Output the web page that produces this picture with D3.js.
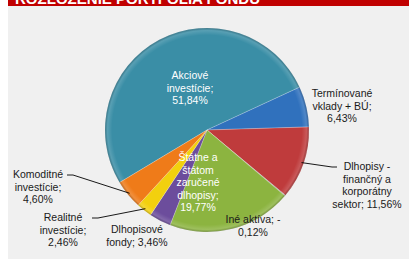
<!DOCTYPE html>
<html>
<head>
<meta charset="utf-8">
<style>
  body { margin: 0; background: #fff; }
  svg text { font-family: "Liberation Sans", Arial, sans-serif; }
</style>
</head>
<body>
<script src="https://cdn.jsdelivr.net/npm/d3@7"></script>
<script>
// data
var categories = ["Akciové investície", "Termínované vklady + BÚ", "Dlhopisy - finančný a korporátny sektor",
                  "Iné aktíva", "Štátne a štátom zaručené dlhopisy", "Dlhopisové fondy",
                  "Realitné investície", "Komoditné investície"];
var values = [51.84, 6.43, 11.56, -0.12, 19.77, 3.46, 2.46, 4.60];
var colors = ["#3a8ea6", "#3071bd", "#bf3b3c", "#8f8f8f", "#8cb440", "#6c4d9c", "#f2d00e", "#ef7b19"];
// label lines (Excel style wrapping)
var labelLines = [
  ["Akciové", "investície;", "51,84%"],
  ["Termínované", "vklady + BÚ;", "6,43%"],
  ["Dlhopisy -", "finančný a", "korporátny", "sektor; 11,56%"],
  ["Iné aktíva; -", "0,12%"],
  ["Štátne a", "štátom", "zaručené", "dlhopisy;", "19,77%"],
  ["Dlhopisové", "fondy; 3,46%"],
  ["Realitné", "investície;", "2,46%"],
  ["Komoditné", "investície;", "4,60%"]
];
var title = "ROZLOŽENIE PORTFÓLIA FONDU";

var W = 409, H = 259;
var cx = 207, cy = 130, R = 102;

// where each label block is centred (first line baseline)
var labelPos = [
  {x: 190, y: 79, fill: "#fff"},
  {x: 342, y: 97, fill: "#1a1a1a"},
  {x: 367, y: 170, fill: "#1a1a1a", leader: true},
  {x: 253, y: 223, fill: "#1a1a1a"},
  {x: 198, y: 161, fill: "#fff"},
  {x: 137, y: 233, fill: "#1a1a1a"},
  {x: 63, y: 221, fill: "#1a1a1a", leader: true},
  {x: 38, y: 178, fill: "#1a1a1a", leader: true}
];

var svg = d3.select("body").append("svg").attr("width", W).attr("height", H);

svg.append("rect").attr("x", 8).attr("y", 0).attr("width", W - 8).attr("height", H).attr("fill", "#f0f0f0");
svg.append("rect").attr("x", 8).attr("y", 0).attr("width", W - 8).attr("height", 6).attr("fill", "#c00000");
svg.append("text").attr("x", 15).attr("y", 4)
  .attr("fill", "#fff").attr("font-weight", "bold").attr("font-size", 14)
  .attr("textLength", 245).attr("lengthAdjust", "spacingAndGlyphs")
  .text(title);

var defs = svg.append("defs");
var rg = defs.append("radialGradient").attr("id", "rim")
  .attr("cx", cx).attr("cy", cy).attr("r", R).attr("gradientUnits", "userSpaceOnUse");
rg.append("stop").attr("offset", 0.93).attr("stop-color", "#fff").attr("stop-opacity", 0);
rg.append("stop").attr("offset", 0.975).attr("stop-color", "#fff").attr("stop-opacity", 0.15);
rg.append("stop").attr("offset", 1).attr("stop-color", "#000").attr("stop-opacity", 0.25);

var start = -121 * Math.PI / 180;
var pie = d3.pie().sort(null).value(function (d) { return Math.abs(d); })
  .startAngle(start).endAngle(start + 2 * Math.PI);
var arcs = pie(values);
var arc = d3.arc().innerRadius(0).outerRadius(R);

var g = svg.append("g").attr("transform", "translate(" + cx + "," + cy + ")");
g.selectAll("path.slice").data(arcs).enter().append("path")
  .attr("class", "slice")
  .attr("d", arc)
  .attr("fill", function (d, i) { return colors[i]; })
  .attr("stroke", "rgba(255,255,255,0.35)")
  .attr("stroke-width", 0.6);

svg.append("circle").attr("cx", cx).attr("cy", cy).attr("r", R).attr("fill", "url(#rim)");

// leader lines
arcs.forEach(function (d, i) {
  var p = labelPos[i];
  if (!p.leader) return;
  var mid = (d.startAngle + d.endAngle) / 2;
  var x0 = cx + R * 0.98 * Math.sin(mid), y0 = cy - R * 0.98 * Math.cos(mid);
  var ex, ey = p.y - 3;
  if (p.x > cx) {
    ex = p.x - 30;
    svg.append("path").attr("d", "M" + x0 + "," + y0 + "L" + (ex - 5) + "," + ey + "L" + ex + "," + ey)
      .attr("fill", "none").attr("stroke", "#000").attr("stroke-width", 0.9);
  } else {
    ex = p.x + 29;
    svg.append("path").attr("d", "M" + ex + "," + ey + "L" + (ex + 6) + "," + ey + "L" + x0 + "," + y0)
      .attr("fill", "none").attr("stroke", "#000").attr("stroke-width", 0.9);
  }
});

// labels
labelLines.forEach(function (lines, i) {
  var p = labelPos[i];
  var t = svg.append("text").attr("text-anchor", "middle").attr("font-size", 10.5).attr("fill", p.fill);
  lines.forEach(function (s, k) {
    t.append("tspan").attr("x", p.x).attr("y", p.y + k * 12.6).text(s);
  });
});
</script>
</body>
</html>
